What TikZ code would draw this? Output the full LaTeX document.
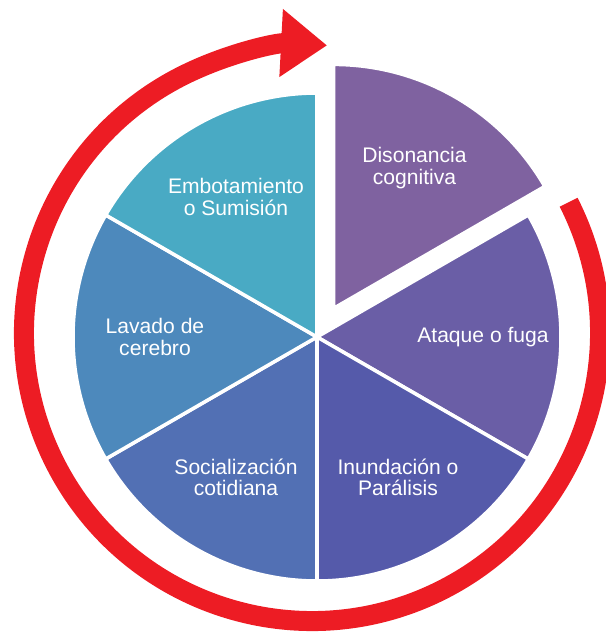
\documentclass[tikz,border=0pt]{standalone}
\usepackage{fontspec}
\setmainfont{Liberation Sans}
\usetikzlibrary{calc}
\usetikzlibrary{arrows.meta}
\definecolor{disocol}{RGB}{127,98,160}
\definecolor{ataqcol}{RGB}{106,94,166}
\definecolor{inuncol}{RGB}{85,90,170}
\definecolor{sociacol}{RGB}{82,112,180}
\definecolor{lavacol}{RGB}{77,137,188}
\definecolor{embocol}{RGB}{73,170,196}
\definecolor{cyclered}{RGB}{237,28,36}
\tikzstyle{slice}=[draw=white,line width=3pt,line join=round]
\tikzstyle{slicelabel}=[text=white,align=center,inner sep=0pt,font=\fontsize{18}{18.5}\selectfont]
\tikzstyle{cyclearrow}=[draw=cyclered,line width=0.6cm,-{Triangle[length=1.38cm,width=1.95cm]}]
\newcommand{\drawslice}[4]{% Syntax: {colour}{start angle}{end angle}{centre}
  \filldraw[slice,fill=#1] (#4) -- ($(#4)+(#2:\radius)$) arc (#2:#3:\radius) -- cycle;
}

\begin{document}
\begin{tikzpicture}[x=0.03cm,y=0.03cm]
  \useasboundingbox (-317,-296) rectangle (289,337);
  \pgfmathsetmacro{\radius}{244}
  \pgfmathsetmacro{\labelr}{162} % labels sit on the bisectors
  % the cycle arrow round the pie
  \draw[cyclearrow] ($(-5,4)+(27:288)$) arc (27:-273:288);
  % slices, the first one pulled out
  \coordinate (mid) at (0,0);
  \coordinate (out) at (60:33);
  \drawslice{disocol}{30}{90}{out}
  \drawslice{ataqcol}{-30}{30}{mid}
  \drawslice{inuncol}{-90}{-30}{mid}
  \drawslice{sociacol}{-150}{-90}{mid}
  \drawslice{lavacol}{150}{210}{mid}
  \drawslice{embocol}{90}{150}{mid}
  % texts
  \node[slicelabel] (diso) at ($(out)+(60:\labelr)$) {Disonancia\\cognitiva};
  \node[slicelabel] (ataq) at (0:\labelr+4) {Ataque o fuga};
  \node[slicelabel] (inun) at (-60:\labelr) {Inundación o\\Parálisis};
  \node[slicelabel] (socia) at (-120:\labelr) {Socialización\\cotidiana};
  \node[slicelabel] (lava) at (180:\labelr) {Lavado de\\cerebro};
  \node[slicelabel] (embo) at (120:\labelr) {Embotamiento\\o Sumisión};
\end{tikzpicture}
\end{document}
